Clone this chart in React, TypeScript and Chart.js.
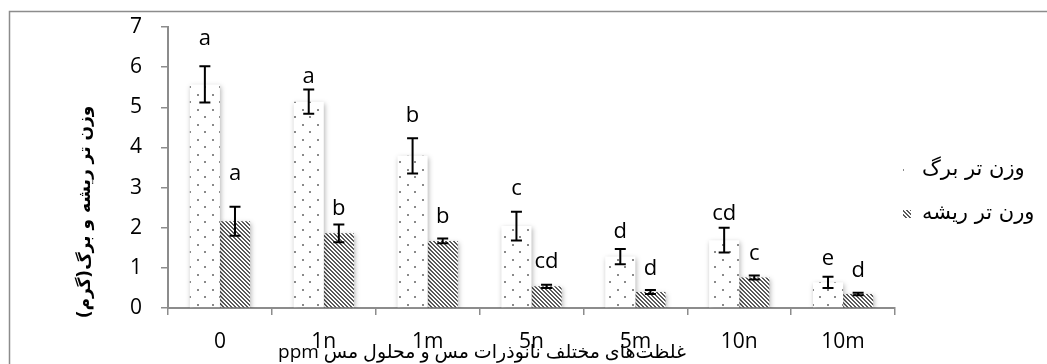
import React, { useEffect, useRef } from "react";
import { Chart, registerables } from "chart.js";

Chart.register(...registerables);

const categories = ["0", "1n", "1m", "5n", "5m", "10n", "10m"];
const leafLabel = "وزن تر برگ";
const rootLabel = "ورن تر ریشه";
const leafValues = [5.57, 5.14, 3.79, 2.04, 1.28, 1.69, 0.64];
const leafErrors = [0.45, 0.3, 0.44, 0.36, 0.19, 0.31, 0.14];
const leafLetters = ["a", "a", "b", "c", "d", "cd", "e"];
const leafLetterAt = [6.56, 5.61, 4.64, 2.82, 1.75, 2.19, 1.07];
const rootValues = [2.16, 1.86, 1.67, 0.54, 0.4, 0.76, 0.35];
const rootErrors = [0.36, 0.22, 0.06, 0.04, 0.05, 0.05, 0.03];
const rootLetters = ["a", "b", "b", "cd", "d", "c", "d"];
const rootLetterAt = [3.19, 2.32, 2.12, 1.0, 0.82, 1.2, 0.77];
const yTicks = [0, 1, 2, 3, 4, 5, 6, 7];
const xTitle = "غلظت‌های مختلف نانوذرات مس و محلول مس ppm";
const yTitle = "وزن تر ریشه و برگ(گرم)";

const W = 1047;
const H = 364;
const LATIN = '"Open Sans"';

function makeDots(): CanvasPattern | string {
  const c = document.createElement("canvas");
  c.width = 15;
  c.height = 15;
  const g = c.getContext("2d");
  if (!g) return "#fff";
  g.fillStyle = "#ffffff";
  g.fillRect(0, 0, 15, 15);
  g.fillStyle = "#8a8a8a";
  g.fillRect(2, 4, 2, 2);
  g.fillRect(9, 11, 2, 2);
  return g.createPattern(c, "repeat") || "#fff";
}

function makeHatch(): CanvasPattern | string {
  const c = document.createElement("canvas");
  c.width = 4;
  c.height = 4;
  const g = c.getContext("2d");
  if (!g) return "#777";
  g.fillStyle = "#ffffff";
  g.fillRect(0, 0, 4, 4);
  g.fillStyle = "#5a5a5a";
  for (let i = 0; i < 4; i++) {
    g.fillRect(i, i, 1, 1);
    g.fillRect((i + 1) % 4, i, 1, 1);
  }
  return g.createPattern(c, "repeat") || "#777";
}

const errorSets = [leafErrors, rootErrors];
const letterSets = [leafLetters, rootLetters];
const letterAtSets = [leafLetterAt, rootLetterAt];

const decorPlugin = {
  id: "decor",
  beforeDraw(chart: any) {
    const ctx = chart.ctx;
    ctx.save();
    ctx.fillStyle = "#ffffff";
    ctx.fillRect(0, 0, W, H);
    ctx.strokeStyle = "#8c8c8c";
    ctx.lineWidth = 1.5;
    ctx.beginPath();
    ctx.moveTo(9.5, H + 2);
    ctx.lineTo(9.5, 11.5);
    ctx.lineTo(W + 2, 11.5);
    ctx.stroke();
    ctx.restore();
  },
  beforeDatasetsDraw(chart: any) {
    const ctx = chart.ctx;
    ctx.save();
    ctx.shadowColor = "rgba(0,0,0,0.3)";
    ctx.shadowBlur = 5;
    ctx.shadowOffsetX = 1;
    ctx.shadowOffsetY = 2;
  },
  afterDatasetsDraw(chart: any) {
    const ctx = chart.ctx;
    ctx.restore();
    const yScale = chart.scales.y;
    ctx.save();
    chart.data.datasets.forEach((ds: any, di: number) => {
      const meta = chart.getDatasetMeta(di);
      meta.data.forEach((bar: any, i: number) => {
        const v = ds.data[i];
        const e = errorSets[di][i];
        const x = bar.x;
        const yTop = yScale.getPixelForValue(v + e);
        const yBot = yScale.getPixelForValue(v - e);
        ctx.strokeStyle = "#000";
        ctx.lineWidth = 2;
        ctx.beginPath();
        ctx.moveTo(x, yTop);
        ctx.lineTo(x, yBot);
        ctx.moveTo(x - 5.5, yTop);
        ctx.lineTo(x + 5.5, yTop);
        ctx.moveTo(x - 5.5, yBot);
        ctx.lineTo(x + 5.5, yBot);
        ctx.stroke();
        ctx.fillStyle = "#000";
        ctx.font = `22px ${LATIN}`;
        ctx.textAlign = "center";
        ctx.textBaseline = "alphabetic";
        ctx.fillText(letterSets[di][i], x, yScale.getPixelForValue(letterAtSets[di][i]));
      });
    });
    ctx.restore();
  },
  afterDraw(chart: any) {
    const ctx = chart.ctx;
    ctx.save();
    chart.data.datasets.forEach((ds: any, di: number) => {
      const cy = di === 0 ? 170 : 214;
      ctx.fillStyle = ds.backgroundColor;
      ctx.fillRect(903, cy - 4, 8, 8);
      ctx.fillStyle = "#000";
      ctx.font = '21px "DejaVu Sans"';
      ctx.textAlign = "left";
      ctx.textBaseline = "middle";
      ctx.fillText(ds.label, 922, cy);
    });
    ctx.fillStyle = "#000";
    ctx.font = `19px ${LATIN}, "DejaVu Sans"`;
    ctx.direction = "rtl";
    ctx.textAlign = "center";
    ctx.textBaseline = "alphabetic";
    ctx.fillText(xTitle, 482, 358);
    ctx.restore();
    ctx.save();
    ctx.translate(86, 212);
    ctx.rotate(-Math.PI / 2);
    ctx.fillStyle = "#000";
    ctx.font = 'bold 17px "DejaVu Sans"';
    ctx.direction = "rtl";
    ctx.textAlign = "center";
    ctx.textBaseline = "middle";
    ctx.fillText(yTitle, 0, 0);
    ctx.restore();
  },
};

export default function App() {
  const ref = useRef<HTMLCanvasElement | null>(null);
  useEffect(() => {
    if (!ref.current) return;
    const chart = new Chart(ref.current, {
      type: "bar",
      data: {
        labels: categories,
        datasets: [
          {
            label: leafLabel,
            data: leafValues,
            backgroundColor: makeDots() as any,
            borderWidth: 0,
            categoryPercentage: 0.58,
            barPercentage: 1,
          },
          {
            label: rootLabel,
            data: rootValues,
            backgroundColor: makeHatch() as any,
            borderWidth: 0,
            categoryPercentage: 0.58,
            barPercentage: 1,
          },
        ],
      },
      options: {
        animation: false,
        responsive: false,
        maintainAspectRatio: false,
        layout: { padding: { left: 100, right: 152, top: 27, bottom: 0 } },
        plugins: {
          legend: { display: false },
          tooltip: { enabled: false },
          title: { display: false },
        },
        scales: {
          x: {
            offset: true,
            grid: {
              offset: true,
              drawOnChartArea: false,
              drawTicks: true,
              tickLength: 7,
              color: "#8c8c8c",
              lineWidth: 1.5,
            },
            border: { display: true, color: "#8c8c8c", width: 2 },
            ticks: {
              color: "#000",
              font: { family: LATIN, size: 21 },
              padding: 14,
              maxRotation: 0,
            },
            afterFit: (s: any) => {
              s.height = 56;
              s.paddingLeft = 0;
              s.paddingRight = 0;
            },
          },
          y: {
            min: 0,
            max: 7,
            afterBuildTicks: (s: any) => {
              s.ticks = yTicks.map((v) => ({ value: v }));
            },
            grid: {
              drawOnChartArea: false,
              drawTicks: true,
              tickLength: 7,
              color: "#8c8c8c",
              lineWidth: 1.5,
            },
            border: { display: true, color: "#8c8c8c", width: 2 },
            ticks: {
              color: "#000",
              font: { family: LATIN, size: 21 },
              padding: 19,
            },
            afterFit: (s: any) => {
              s.width = 68;
              s.paddingTop = 0;
              s.paddingBottom = 0;
            },
          },
        },
      },
      plugins: [decorPlugin],
    });
    return () => chart.destroy();
  }, []);
  return (
    <div style={{ position: "fixed", left: 0, top: 0, width: W, height: H }}>
      <canvas ref={ref} width={W} height={H} style={{ display: "block", width: W, height: H }} />
    </div>
  );
}
